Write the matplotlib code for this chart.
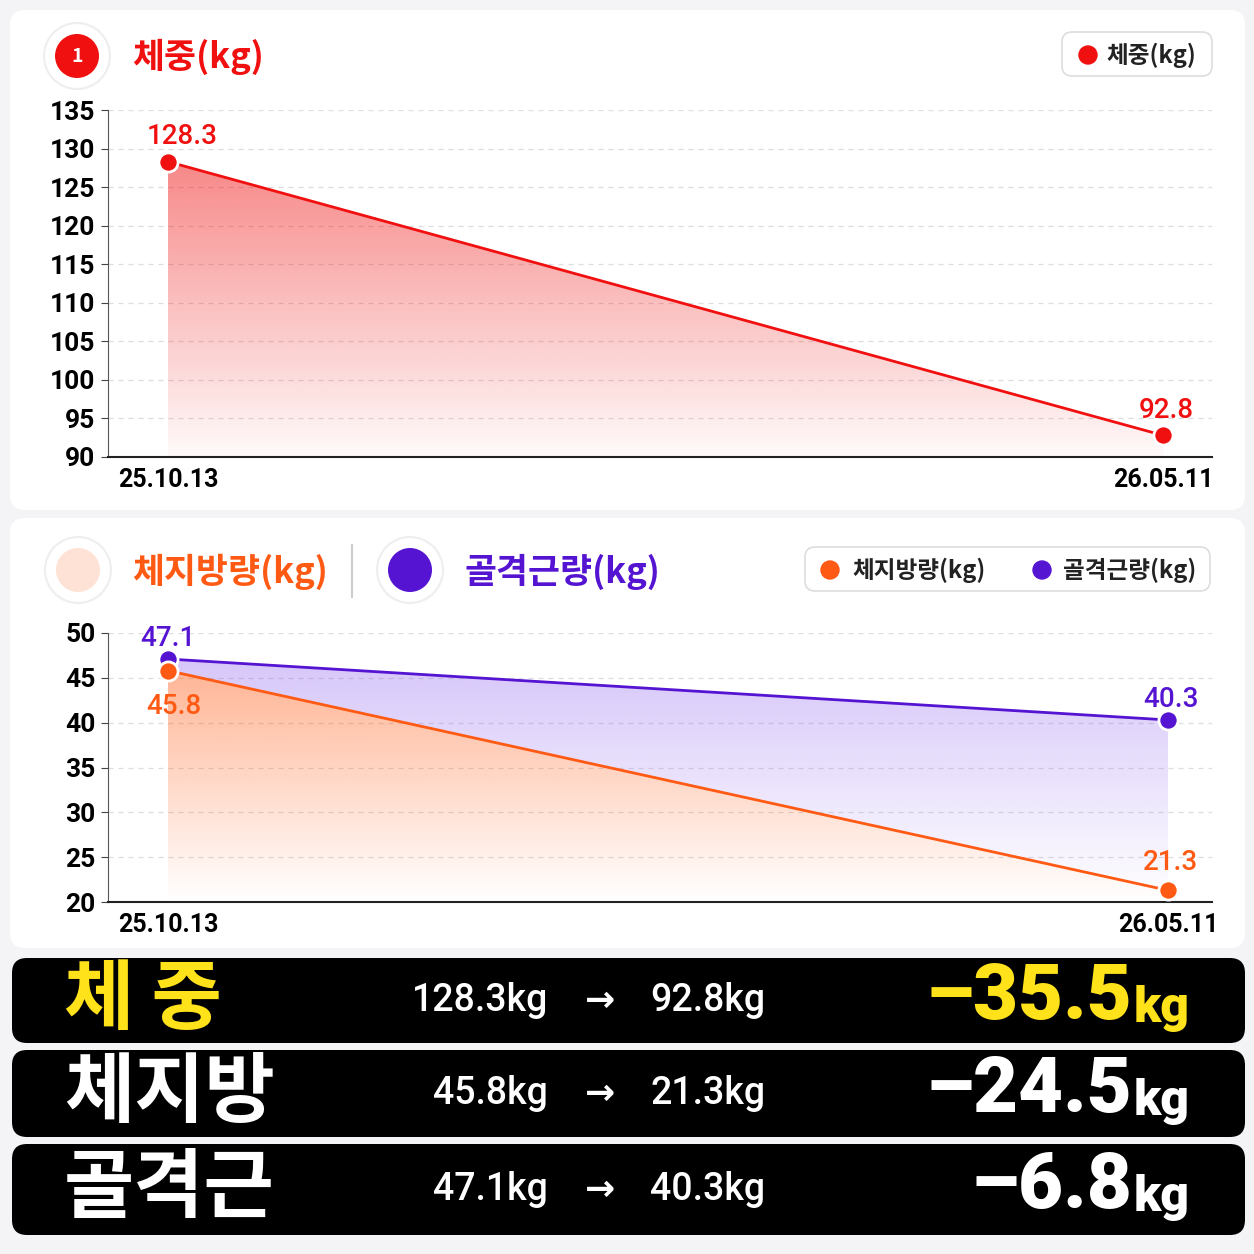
import matplotlib
matplotlib.use("Agg")
import matplotlib.pyplot as plt
import numpy as np
from matplotlib.patches import FancyBboxPatch, Polygon, Circle

plt.rcParams['font.family'] = ['Noto Sans CJK KR', 'DejaVu Sans']
plt.rcParams['font.weight'] = 'bold'

dates = ["25.10.13", "26.05.11"]
weight = [128.3, 92.8]
fat = [45.8, 21.3]
muscle = [47.1, 40.3]
w_ticks = list(range(90, 136, 5))
b_ticks = list(range(20, 51, 5))
rows = [("체 중", "128.3kg", "92.8kg", "–35.5", "#FFE21A"),
        ("체지방", "45.8kg", "21.3kg", "–24.5", "white"),
        ("골격근", "47.1kg", "40.3kg", "–6.8", "white")]

RED = "#F01010"; ORANGE = "#FF5A14"; PURPLE = "#5514D2"
W = H = 1254
fig = plt.figure(figsize=(12.54, 12.54), dpi=100)
fig.patch.set_facecolor("#F4F4F6")

def fx(x): return x / W
def fy(y): return 1 - y / H

def card(x0, y0, x1, y1, fc, r=0.012):
    fig.patches.append(FancyBboxPatch((fx(x0), fy(y1)), fx(x1 - x0), (y1 - y0) / H,
        boxstyle=f"round,pad=0,rounding_size={r}", transform=fig.transFigure,
        facecolor=fc, edgecolor="none", zorder=-1))

card(10, 10, 1245, 510, "white")
card(10, 518, 1245, 948, "white")

def gradfill(ax, xs, ys, lower, ybase, color, a0=0.55, a1=0.0):
    ytop = max(ys)
    rgb = matplotlib.colors.to_rgb(color)
    n = 256
    img = np.zeros((n, 2, 4))
    img[..., :3] = rgb
    img[..., 3] = np.linspace(a1, a0, n)[:, None]
    im = ax.imshow(img, extent=[min(xs), max(xs), ybase, ytop], origin="lower",
                   aspect="auto", zorder=1)
    pts = list(zip(xs, ys)) + list(zip(xs[::-1], lower[::-1]))
    poly = Polygon(pts, closed=True, transform=ax.transData, facecolor="none", edgecolor="none")
    ax.add_patch(poly)
    im.set_clip_path(poly)

def style(ax, ticks, lo, hi, xr):
    ax.set_zorder(2)
    ax.set_ylim(lo, hi)
    ax.set_xlim(*xr)
    ax.set_yticks(ticks)
    ax.set_xticks([0, 1])
    ax.set_xticklabels(dates, fontsize=18, fontweight="bold", family=["Roboto", "DejaVu Sans"])
    ax.tick_params(axis='y', labelsize=19, length=5, color="#444", pad=4)
    ax.tick_params(axis='x', length=0, pad=8)
    for t in ax.get_yticklabels():
        t.set_fontfamily(["Roboto", "DejaVu Sans"]); t.set_fontweight("bold")
    for s in ["top", "right"]:
        ax.spines[s].set_visible(False)
    ax.spines["left"].set_color("#555"); ax.spines["bottom"].set_color("#222")
    ax.spines["bottom"].set_linewidth(1.5)
    ax.grid(axis='y', ls=(0, (4, 4)), color="#DDDDDD", lw=0.9)
    ax.set_axisbelow(True)
    ax.set_facecolor("none")

x = [0, 1]
# top chart
ax1 = fig.add_axes([fx(108), fy(457), fx(1212 - 108), (457 - 110) / H])
style(ax1, w_ticks, 90, 135, (-0.0603, 1.049))
gradfill(ax1, x, weight, [90, 90], 90, RED, 0.5, 0.02)
ax1.plot(x, weight, color=RED, lw=2, zorder=3)
ax1.scatter(x, weight, s=190, color=RED, edgecolor="white", lw=2, zorder=4)
kw = dict(fontsize=20, ha="center", family=["Roboto", "DejaVu Sans"], fontweight="medium")
ax1.text(0.014, weight[0] + 2.3, f"{weight[0]}", color=RED, **kw)
ax1.text(1.003, weight[1] + 2.3, f"{weight[1]}", color=RED, **kw)

# bottom chart
ax2 = fig.add_axes([fx(108), fy(902), fx(1212 - 108), (902 - 633) / H])
style(ax2, b_ticks, 20, 50, (-0.06, 1.044))
gradfill(ax2, x, muscle, fat, 20, "#8A5CF0", 0.35, 0.0)
gradfill(ax2, x, fat, [20, 20], 20, ORANGE, 0.45, 0.0)
ax2.plot(x, muscle, color=PURPLE, lw=2, zorder=3)
ax2.plot(x, fat, color=ORANGE, lw=2, zorder=3)
ax2.scatter(x, muscle, s=190, color=PURPLE, edgecolor="white", lw=2, zorder=4)
ax2.scatter(x, fat, s=190, color=ORANGE, edgecolor="white", lw=2, zorder=4)
ax2.text(0, muscle[0] + 1.5, f"{muscle[0]}", color=PURPLE, **kw)
ax2.text(1.003, muscle[1] + 1.5, f"{muscle[1]}", color=PURPLE, **kw)
ax2.text(0.006, fat[0] - 4.8, f"{fat[0]}", color=ORANGE, **kw)
ax2.text(1.003, fat[1] + 2.3, f"{fat[1]}", color=ORANGE, **kw)

# titles, icons
def icon(cx, cy, color, sym, sc="white"):
    fig.patches.append(Circle((fx(cx), fy(cy)), 33 / W, transform=fig.transFigure,
                              facecolor="white", edgecolor="#EEEEEE", lw=1.5, zorder=2))
    fig.patches.append(Circle((fx(cx), fy(cy)), 22 / W, transform=fig.transFigure,
                              facecolor=color, edgecolor="none", zorder=3))
    fig.text(fx(cx), fy(cy), sym, color=sc, fontsize=14, ha="center", va="center", zorder=4)

icon(77, 56, RED, "1")
fig.text(fx(132), fy(57), "체중(kg)", color=RED, fontsize=25, va="center")
icon(78, 570, "#FFE2D6", "", ORANGE)
fig.text(fx(132), fy(572), "체지방량(kg)", color=ORANGE, fontsize=25, va="center")
fig.add_artist(plt.Line2D([fx(352), fx(352)], [fy(545), fy(597)], color="#CCCCCC", lw=1.5,
                          transform=fig.transFigure))
icon(410, 570, PURPLE, "")
fig.text(fx(464), fy(572), "골격근량(kg)", color=PURPLE, fontsize=25, va="center")

# legends
fig.patches.append(FancyBboxPatch((fx(1062), fy(76)), fx(150), 44 / H,
    boxstyle="round,pad=0,rounding_size=0.008", transform=fig.transFigure,
    facecolor="white", edgecolor="#DDDDDD", lw=1.2, zorder=1))
fig.patches.append(Circle((fx(1088), fy(55)), 9 / W, transform=fig.transFigure, color=RED, zorder=3))
fig.text(fx(1106), fy(55), "체중(kg)", fontsize=17, va="center", color="#222")
fig.patches.append(FancyBboxPatch((fx(805), fy(591)), fx(405), 44 / H,
    boxstyle="round,pad=0,rounding_size=0.008", transform=fig.transFigure,
    facecolor="white", edgecolor="#DDDDDD", lw=1.2, zorder=1))
fig.patches.append(Circle((fx(830), fy(570)), 9 / W, transform=fig.transFigure, color=ORANGE, zorder=3))
fig.text(fx(852), fy(570), "체지방량(kg)", fontsize=17, va="center", color="#222")
fig.patches.append(Circle((fx(1042), fy(570)), 9 / W, transform=fig.transFigure, color=PURPLE, zorder=3))
fig.text(fx(1063), fy(570), "골격근량(kg)", fontsize=17, va="center", color="#222")

# summary bars
boxes = [(958, 1043), (1050, 1137), (1144, 1235)]
for (y0, y1), (name, a, b, d, c) in zip(boxes, rows):
    fig.patches.append(FancyBboxPatch((fx(12), fy(y1)), fx(1233), (y1 - y0) / H,
        boxstyle="round,pad=0,rounding_size=0.012", transform=fig.transFigure,
        facecolor="black", edgecolor="none", zorder=1))
    cy = fy((y0 + y1) / 2)
    fig.text(fx(64), cy, name, color=c, fontsize=55, va="center", fontweight="black")
    fig.text(fx(548), cy, a, color="white", fontsize=27, va="center", ha="right",
             family=["Roboto", "DejaVu Sans"], fontweight="medium")
    fig.text(fx(600), cy, "→", color="white", fontsize=26, va="center", ha="center", family="DejaVu Sans")
    fig.text(fx(650), cy, b, color="white", fontsize=27, va="center", ha="left",
             family=["Roboto", "DejaVu Sans"], fontweight="medium")
    fig.text(fx(1132), cy + 0.002, d, color=c, fontsize=56, va="center", ha="right",
             family=["Roboto", "DejaVu Sans"], fontweight="black")
    fig.text(fx(1134), cy - 0.006, "kg", color=c, fontsize=36, va="center", ha="left",
             family=["Roboto", "DejaVu Sans"], fontweight="black")

fig.savefig("out.png", dpi=100, facecolor=fig.get_facecolor())
